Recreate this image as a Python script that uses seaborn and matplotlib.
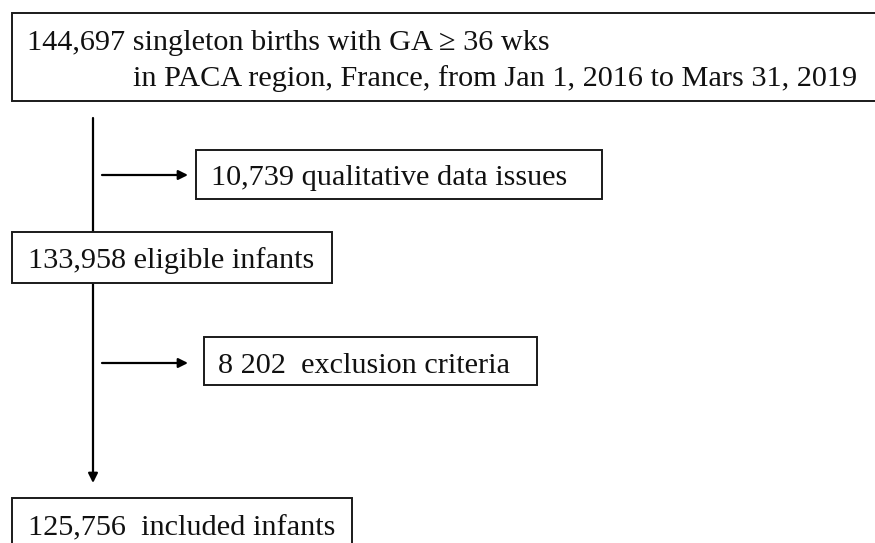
import seaborn as sns
import matplotlib.pyplot as plt
from matplotlib.patches import Rectangle

# Flow chart content
counts = ["144,697", "10,739", "133,958", "8 202", "125,756"]
labels = [
    "singleton births with GA \u2265 36 wks",
    "qualitative data issues",
    "eligible infants",
    " exclusion criteria",
    " included infants",
]
top_line2 = "in PACA region, France, from Jan 1, 2016 to Mars 31, 2019"

sns.set_theme(style="white")
plt.rcParams["font.family"] = ["Liberation Serif", "DejaVu Serif"]

fig = plt.figure(figsize=(8.75, 5.43), dpi=100)
ax = fig.add_axes([0, 0, 1, 1])
ax.set_xlim(0, 875)
ax.set_ylim(543, 0)
ax.axis("off")

fs = 21.8
edge = "#1a1a1a"
arrow_kw = dict(arrowstyle="-|>", lw=1.6, color="black",
                mutation_scale=14, shrinkA=0, shrinkB=0)

def box(x0, y0, x1, y1):
    ax.add_patch(Rectangle((x0, y0), x1 - x0, y1 - y0, facecolor="white",
                           edgecolor=edge, linewidth=1.4, zorder=3))

def label(x, y, s):
    ax.text(x, y, s, fontsize=fs, va="baseline", ha="left", color="#111111", zorder=4)

# main vertical flow line with arrow at the bottom
ax.annotate("", xy=(93, 483), xytext=(93, 118), arrowprops=arrow_kw, zorder=1)

# side arrows
for y in [175, 363]:
    ax.annotate("", xy=(188, y), xytext=(102, y), arrowprops=arrow_kw, zorder=1)

# top box
box(12, 13, 880, 101)
label(27, 50, f"{counts[0]} {labels[0]}")
label(133, 86, top_line2)

# data issues box
box(196, 150, 602, 199)
label(211, 185, f"{counts[1]} {labels[1]}")

# eligible box
box(12, 232, 332, 283)
label(28, 268, f"{counts[2]} {labels[2]}")

# exclusion box
box(204, 337, 537, 385)
label(218, 373, f"{counts[3]} {labels[3]}")

# included box
box(12, 498, 352, 560)
label(28, 535, f"{counts[4]} {labels[4]}")

fig.savefig("out.png", dpi=100)
